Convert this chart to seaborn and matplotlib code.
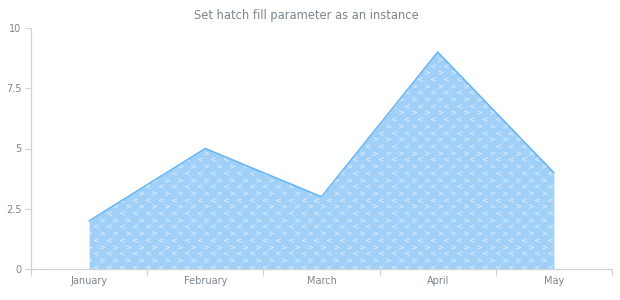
import numpy as np
import pandas as pd
import matplotlib
matplotlib.use("Agg")
import matplotlib.pyplot as plt
import seaborn as sns

months = ["January", "February", "March", "April", "May"]
values = [2, 5, 3, 9, 4]
y_ticks = [0, 2.5, 5, 7.5, 10]
y_tick_labels = ["0", "2.5", "5", "7.5", "10"]
title = "Set hatch fill parameter as an instance"

sns.set_theme(style="white")
plt.rcParams['font.family'] = ['DejaVu Sans']

df = pd.DataFrame({"month": months, "value": values})
df["pos"] = np.arange(len(months))

fig = plt.figure(figsize=(6.2, 3.0), dpi=100)
ax = fig.add_axes([0.05, 0.103, 0.937, 0.804])

fill = ax.fill_between(df["pos"], 0, df["value"], color="#a0cff8", lw=0, zorder=2)
sns.lineplot(data=df, x="pos", y="value", color="#64b5f6", lw=1.1, ax=ax, zorder=4)

ax.set_xlim(-0.5, len(months) - 0.5)
ax.set_ylim(0, 10)

# hatch pattern: alternating rows of "<" and ">" chevrons, clipped to the area
dx = 13 / 116.4
dy = 6.7 / 24.1
xs, ys, rws = [], [], []
row = 0
yv = 0.1
while yv < 10:
    off = 0 if row % 2 == 0 else dx / 2
    xv = -0.5 + off
    while xv < 4.6:
        xs.append(xv); ys.append(yv); rws.append(row)
        xv += dx
    yv += dy
    row += 1
xs = np.array(xs); ys = np.array(ys); rws = np.array(rws)
for sym, sel in (("$<$", rws % 2 == 0), ("$>$", rws % 2 == 1)):
    sc = ax.scatter(xs[sel], ys[sel], marker=sym, s=13, c="white", alpha=0.75,
                    linewidths=0, zorder=3)
    sc.set_clip_path(fill.get_paths()[0], ax.transData)

ax.set_xticks(np.arange(-0.5, len(months) + 0.5, 1.0))
ax.set_xticklabels([])
ax.set_xticks(df["pos"], minor=True)
ax.set_xticklabels(months, minor=True)
ax.tick_params(axis="x", which="major", length=5, width=0.8, color="#cfd3d8", direction="out", bottom=True)
ax.tick_params(axis="x", which="minor", length=0, labelsize=7, labelcolor="#7c868e", pad=5)

ax.set_yticks(y_ticks)
ax.set_yticklabels(y_tick_labels)
ax.tick_params(axis="y", length=4, width=0.8, color="#cfd3d8", direction="out", left=True,
               labelsize=7, labelcolor="#7c868e", pad=3)

for s in ("top", "right"):
    ax.spines[s].set_visible(False)
for s in ("left", "bottom"):
    ax.spines[s].set_color("#cfd3d8")
    ax.spines[s].set_linewidth(0.9)

ax.set_xlabel("")
ax.set_ylabel("")
ax.grid(False)
fig.suptitle(title, x=0.494, y=0.97, fontsize=8.3, color="#7c868e")

fig.savefig("out.png", dpi=100, facecolor="white")
